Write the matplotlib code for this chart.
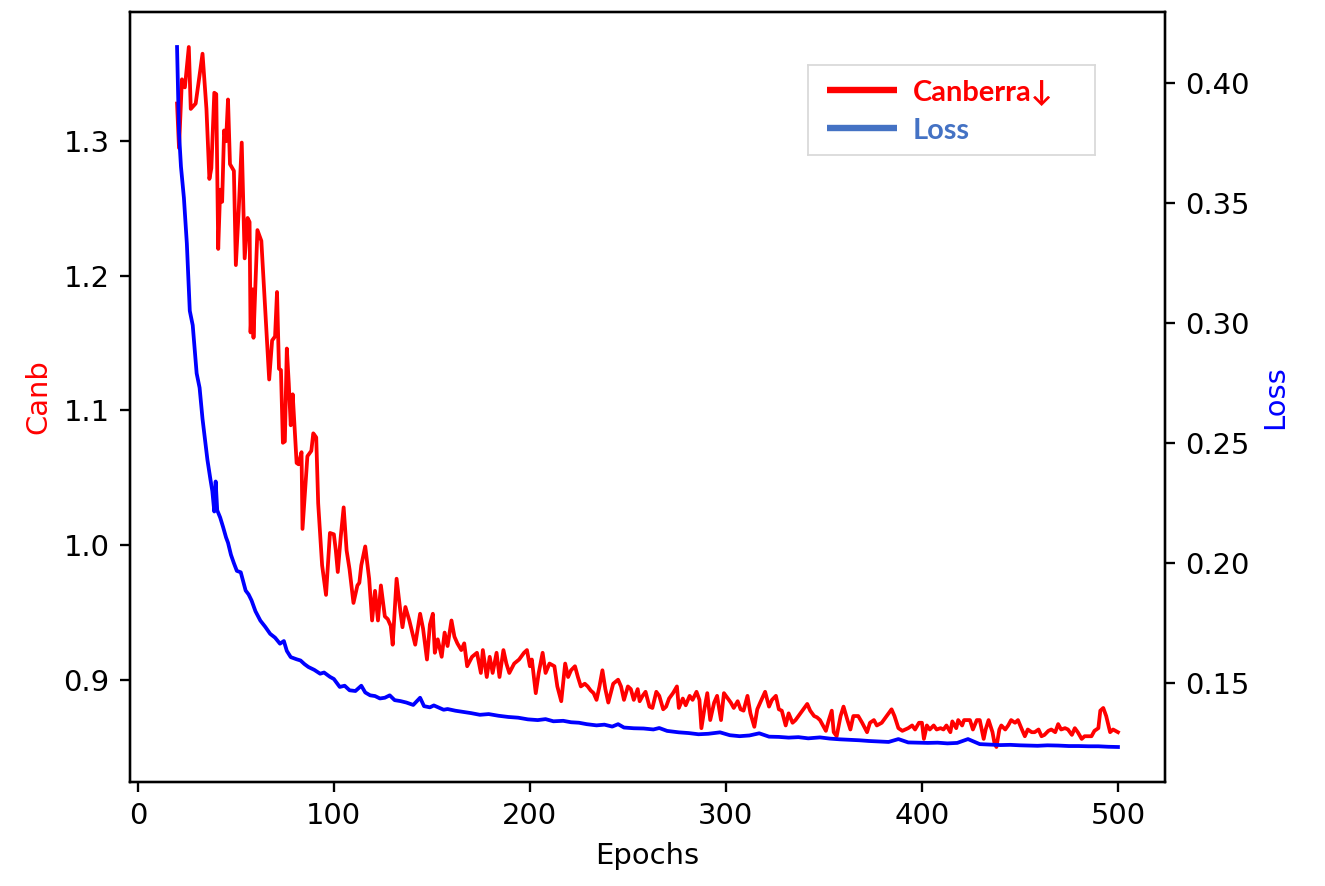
import matplotlib
matplotlib.use('Agg')
import matplotlib.pyplot as plt

# Canberra metric (left axis)
epochs_canb = [20, 21, 22.5, 24, 26, 27, 29.5, 33, 35, 36.5, 37.5, 39, 40, 41, 42, 43, 44, 45, 46, 47,
               49, 50, 51.5, 53, 54.5, 56, 57, 57.5, 58.5, 59, 61, 63, 67, 68.5, 70, 71, 72, 73, 74, 75,
               76, 77, 78, 79, 81, 82, 83.5, 84, 86.5, 88.5, 89.5, 91, 92, 94, 96, 98, 100, 101, 102, 103.5,
               105, 106.5, 108, 110, 112, 113, 114, 116, 118, 119.5, 121, 122.5, 124, 126, 127.5, 129, 130, 132, 134, 135,
               136.5, 138.5, 140, 141.5, 144, 145.5, 147.5, 149, 150.5, 151.5, 153, 155, 156.5, 158, 160, 161.5, 163, 165, 166.5, 168,
               170.5, 173, 175, 176, 178, 179.5, 181, 183, 184.5, 186.5, 188, 189.5, 192, 194.5, 197, 198.5, 200, 201, 203, 204.5,
               206.5, 208, 210, 212.5, 214, 216, 218, 219.5, 221, 223, 224.5, 226, 228, 229.5, 231, 232.5, 234, 235.5, 237, 238.5,
               240, 242.5, 245, 246.5, 248, 250, 251.5, 253, 255, 256, 257.5, 259, 261, 262.5, 264.5, 266, 268, 269.5, 271, 273,
               275, 276, 278, 279.5, 281.5, 283, 285, 286.5, 287.5, 289, 290.5, 292, 294, 295.5, 297.5, 299, 301, 302.5, 304, 306,
               307.5, 309, 311, 312.5, 314.5, 316, 317.5, 320, 322, 323.5, 325.5, 327, 328.5, 330.5, 332, 334, 335.5, 337, 339, 341.5,
               343, 345, 346.5, 348, 351, 352.5, 354, 355, 356.5, 358.5, 360, 362, 363.5, 365, 367.5, 369.5, 372, 373.5, 375.5, 377,
               379.5, 381.5, 383, 384.5, 386, 388, 390, 391.5, 393, 395, 396.5, 398.5, 400, 401, 402.5, 404, 406, 407.5, 409.5, 411,
               412.5, 414.5, 415.5, 417.5, 418.5, 420.5, 421.5, 423.5, 424.5, 426, 428, 429.5, 431.5, 432.5, 434, 436, 437, 438, 439.5, 440.5,
               442.5, 444, 445.5, 447.5, 449, 451, 452.5, 454, 456, 457.5, 459.5, 461, 462.5, 464.5, 466, 468, 469.5, 471, 473, 474.5,
               476.5, 478, 479.5, 481.5, 483, 484.5, 486.5, 488, 490, 491, 492.5, 494, 496, 497.5, 500]
canb = [1.328, 1.295, 1.346, 1.340, 1.370, 1.324, 1.328, 1.365, 1.324, 1.272, 1.280, 1.336, 1.335, 1.220, 1.264, 1.255, 1.308, 1.300, 1.331, 1.283,
        1.278, 1.208, 1.250, 1.299, 1.213, 1.243, 1.240, 1.158, 1.190, 1.154, 1.234, 1.226, 1.123, 1.152, 1.155, 1.188, 1.131, 1.130, 1.076, 1.077,
        1.146, 1.120, 1.089, 1.112, 1.061, 1.060, 1.069, 1.012, 1.066, 1.070, 1.083, 1.080, 1.031, 0.985, 0.963, 1.009, 1.008, 0.996, 0.980, 1.006,
        1.028, 0.996, 0.982, 0.957, 0.970, 0.972, 0.985, 0.999, 0.975, 0.944, 0.966, 0.944, 0.970, 0.947, 0.945, 0.940, 0.926, 0.975, 0.950, 0.939,
        0.954, 0.944, 0.935, 0.926, 0.949, 0.938, 0.915, 0.941, 0.949, 0.920, 0.930, 0.917, 0.935, 0.925, 0.944, 0.932, 0.927, 0.922, 0.927, 0.910,
        0.917, 0.920, 0.905, 0.922, 0.902, 0.917, 0.905, 0.920, 0.902, 0.922, 0.912, 0.905, 0.912, 0.915, 0.920, 0.922, 0.910, 0.915, 0.890, 0.905,
        0.920, 0.905, 0.912, 0.910, 0.895, 0.884, 0.912, 0.902, 0.907, 0.910, 0.902, 0.895, 0.897, 0.895, 0.892, 0.890, 0.885, 0.895, 0.907, 0.893,
        0.883, 0.897, 0.900, 0.895, 0.885, 0.895, 0.893, 0.885, 0.893, 0.884, 0.888, 0.891, 0.880, 0.879, 0.891, 0.888, 0.878, 0.880, 0.886, 0.890,
        0.895, 0.879, 0.886, 0.881, 0.888, 0.885, 0.891, 0.885, 0.864, 0.878, 0.890, 0.870, 0.883, 0.888, 0.870, 0.890, 0.886, 0.883, 0.879, 0.884,
        0.878, 0.877, 0.888, 0.875, 0.865, 0.878, 0.883, 0.891, 0.880, 0.885, 0.888, 0.878, 0.877, 0.866, 0.875, 0.868, 0.870, 0.873, 0.877, 0.882,
        0.877, 0.873, 0.872, 0.870, 0.862, 0.870, 0.877, 0.861, 0.858, 0.873, 0.880, 0.870, 0.863, 0.873, 0.873, 0.868, 0.861, 0.868, 0.870, 0.866,
        0.868, 0.872, 0.875, 0.878, 0.873, 0.864, 0.862, 0.863, 0.864, 0.866, 0.863, 0.868, 0.868, 0.856, 0.866, 0.863, 0.866, 0.863, 0.864, 0.863,
        0.866, 0.861, 0.869, 0.864, 0.870, 0.866, 0.870, 0.870, 0.870, 0.863, 0.870, 0.870, 0.856, 0.863, 0.870, 0.861, 0.853, 0.850, 0.863, 0.866,
        0.863, 0.866, 0.870, 0.868, 0.870, 0.863, 0.858, 0.863, 0.861, 0.861, 0.863, 0.858, 0.859, 0.862, 0.863, 0.861, 0.867, 0.863, 0.864, 0.863,
        0.859, 0.864, 0.861, 0.856, 0.858, 0.858, 0.858, 0.862, 0.864, 0.877, 0.879, 0.873, 0.861, 0.863, 0.861]

# training loss (right axis)
epochs_loss = [20, 21, 22, 23.5, 25, 26.5, 28, 30, 31.5, 33, 35.5, 37, 38, 39, 39.7, 40.5, 42, 43.5, 45, 46,
               47.5, 49, 50.5, 52.5, 55, 56.5, 58, 60, 62.5, 65, 67.5, 70, 72.5, 74.5, 76, 78, 81, 83, 85, 87,
               90, 93, 95, 98, 100, 103, 105.5, 108, 111, 114, 116, 118.5, 121, 123.5, 126, 128.5, 131, 134, 137, 140.5,
               144, 146, 149, 151, 154, 156, 158, 162, 166, 170, 174.5, 179, 184, 189, 194, 199, 204, 208, 212, 217,
               221, 225, 229, 234, 238, 242, 245, 248, 253, 258, 263, 266, 270, 276, 281, 286, 291, 297, 302, 307,
               312, 317, 322, 327, 332, 337, 342, 348, 353, 358, 363, 368, 373, 378, 383, 388, 393, 398, 403, 408,
               413, 418, 423.5, 429.5, 435, 440, 445, 450, 455, 459, 464, 469.5, 475, 480, 485, 490, 495, 500]
loss = [0.4148, 0.379, 0.365, 0.352, 0.333, 0.305, 0.299, 0.279, 0.273, 0.260, 0.243, 0.235, 0.230, 0.2215, 0.2340, 0.2220, 0.2190, 0.2150, 0.2107, 0.2085,
        0.2035, 0.2000, 0.1968, 0.1962, 0.1886, 0.1870, 0.1845, 0.1800, 0.1761, 0.1735, 0.1706, 0.1690, 0.1665, 0.1676, 0.1635, 0.1609, 0.1600, 0.1595, 0.1580, 0.1568,
        0.1556, 0.1540, 0.1545, 0.1527, 0.1518, 0.1485, 0.1490, 0.1471, 0.1468, 0.1490, 0.1462, 0.1450, 0.1447, 0.1437, 0.1440, 0.1450, 0.1430, 0.1426, 0.1420, 0.1410,
        0.1440, 0.1405, 0.1400, 0.1408, 0.1397, 0.1390, 0.1393, 0.1386, 0.1381, 0.1376, 0.1369, 0.1372, 0.1365, 0.1360, 0.1357, 0.1350, 0.1347, 0.1351, 0.1342, 0.1344,
        0.1338, 0.1336, 0.1330, 0.1325, 0.1328, 0.1320, 0.1330, 0.1316, 0.1313, 0.1312, 0.1308, 0.1314, 0.1302, 0.1296, 0.1293, 0.1288, 0.1290, 0.1296, 0.1284, 0.1280,
        0.1283, 0.1292, 0.1278, 0.1277, 0.1274, 0.1276, 0.1271, 0.1275, 0.1270, 0.1267, 0.1265, 0.1263, 0.1260, 0.1258, 0.1256, 0.1268, 0.1254, 0.1253, 0.1252, 0.1253,
        0.1250, 0.1252, 0.1268, 0.1247, 0.1245, 0.1243, 0.1244, 0.1242, 0.1241, 0.1240, 0.1242, 0.1241, 0.1239, 0.1239, 0.1238, 0.1238, 0.1236, 0.1235]

legend_labels = ['Canberra\u2193', 'Loss']
legend_colors = ['red', '#4472C4']

W, H, DPI = 1325, 886, 208.7
fig = plt.figure(figsize=(W / DPI, H / DPI), dpi=DPI)
ax1 = fig.add_axes([130 / W, 1 - 782 / H, 1035 / W, 770 / H])
ax1.plot(epochs_canb, canb, color='r', linewidth=1.3)
ax1.set_xlabel('Epochs')
ax1.set_ylabel('Canb', color='r')

ax2 = ax1.twinx()
ax2.plot(epochs_loss, loss, color='b', linewidth=1.3)
ax2.set_ylabel('Loss', color='b')

# hand made legend box (pasted in, light grey frame)
lax = fig.add_axes([808 / W, 1 - 155 / H, 287 / W, 90 / H])
lax.set_xlim(0, 1)
lax.set_ylim(0, 1)
lax.set_xticks([])
lax.set_yticks([])
for sp in lax.spines.values():
    sp.set_color('#d9d9d9')
    sp.set_linewidth(0.6)
for i, (lab, col) in enumerate(zip(legend_labels, legend_colors)):
    yy = 0.72 - i * 0.42
    lax.plot([0.065, 0.31], [yy, yy], color=col, linewidth=2.2, solid_capstyle='butt')
    lax.text(0.365, yy - 0.03, lab, color=col, fontsize=10, fontweight='bold',
             family=['Lato', 'DejaVu Sans'], va='center', ha='left')

plt.savefig('out.png', dpi=DPI)
